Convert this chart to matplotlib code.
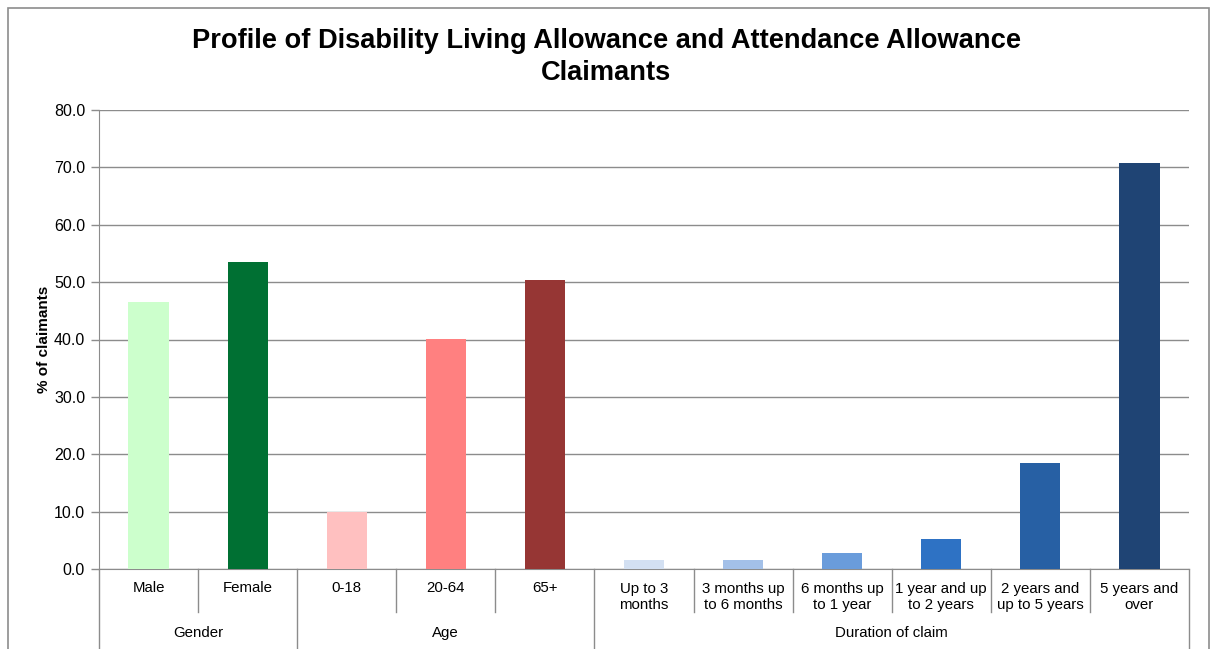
import numpy as np
import matplotlib.pyplot as plt
from matplotlib.patches import Rectangle

plt.rcParams['font.family'] = ['Liberation Sans', 'DejaVu Sans']

# --- データ ---
categories = ['Male', 'Female', '0-18', '20-64', '65+',
              'Up to 3\nmonths', '3 months up\nto 6 months', '6 months up\nto 1 year',
              '1 year and up\nto 2 years', '2 years and\nup to 5 years', '5 years and\nover']
values = [46.5, 53.5, 9.9, 40.1, 50.3, 1.6, 1.6, 2.8, 5.2, 18.5, 70.7]
groups = ['Gender', 'Age', 'Duration of claim']
group_sizes = [2, 3, 6]
colors = ['#CCFFCC', '#007033', '#FFC0C0', '#FF8080', '#963634',
          '#D3E0F2', '#A3C0E8', '#6A9CDB', '#2E72C4', '#2760A4', '#1F4474']

fig = plt.figure(figsize=(12.12, 6.49), dpi=100)
ax = fig.add_axes([99 / 1212, 1 - 569 / 649, 1090 / 1212, 459 / 649])

# 外枠
fig.patches.append(Rectangle((8 / 1212, -0.05), 1201 / 1212, 1 - 8 / 649 + 0.05,
                             transform=fig.transFigure, fill=False,
                             edgecolor='#8C8C8C', lw=1.2))

x = np.arange(len(categories))
ax.bar(x, values, width=0.405, color=colors, zorder=3)

ax.set_xlim(-0.5, len(categories) - 0.5)
ax.set_ylim(0, 80)
ax.set_yticks(np.arange(0, 81, 10))
ax.set_yticklabels([f'{v:.1f}' for v in np.arange(0, 81, 10)], fontsize=11.5)
ax.yaxis.grid(True, color='#8C8C8C', lw=1)
ax.set_axisbelow(True)
ax.tick_params(axis='y', length=6, color='#8C8C8C', width=1, pad=4)
ax.set_xticks([])
for s in ['top', 'right']:
    ax.spines[s].set_visible(False)
for s in ['left', 'bottom']:
    ax.spines[s].set_color('#8C8C8C')
ax.set_ylabel('% of claimants', fontsize=11, fontweight='bold', labelpad=2)

fig.suptitle('Profile of Disability Living Allowance and Attendance Allowance\nClaimants',
             fontsize=19.6, fontweight='bold', y=1 - 57 / 649, va='center', linespacing=1.3)

# --- 2段のカテゴリ軸 ---
trans = ax.get_xaxis_transform()
h = 459.0
y_short = -(612 - 569) / h
y_long = -(648 - 569) / h
y_lab = -(597 - 569) / h
y_grp = -(633 - 569) / h

boundaries = np.cumsum([0] + group_sizes) - 0.5
for i in range(len(categories) + 1):
    xb = i - 0.5
    ylow = y_long if xb in boundaries else y_short
    ax.plot([xb, xb], [0, ylow], transform=trans, color='#8C8C8C', lw=1, clip_on=False)

for xi, lab in zip(x, categories):
    yy = y_lab if '\n' in lab else -(588 - 569) / h
    ax.text(xi, yy, lab, transform=trans, ha='center', va='center', fontsize=10.8,
            linespacing=1.1)

for j, g in enumerate(groups):
    xc = (boundaries[j] + boundaries[j + 1]) / 2
    ax.text(xc, y_grp, g, transform=trans, ha='center', va='center', fontsize=10.8)

plt.savefig('out.png', dpi=100)
